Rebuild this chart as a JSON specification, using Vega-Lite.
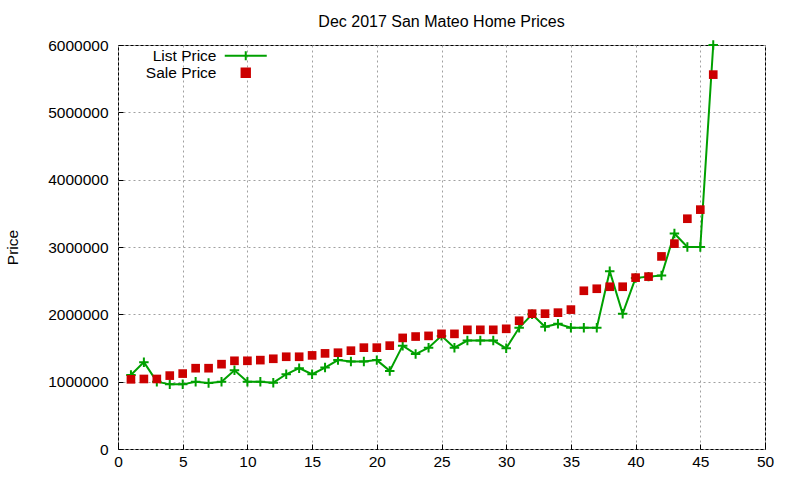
{
  "$schema": "https://vega.github.io/schema/vega-lite/v6.json",
  "autosize": "none",
  "width": 647,
  "height": 404,
  "padding": {"left": 118, "top": 45, "right": 35, "bottom": 31},
  "background": "white",
  "title": {
    "text": "Dec 2017 San Mateo Home Prices",
    "fontSize": 16,
    "fontWeight": "normal",
    "font": "Liberation Sans",
    "color": "black",
    "anchor": "middle",
    "baseline": "middle",
    "offset": -1.5
  },
  "data": {
    "values": [
      {"n": 1, "series": "List Price", "price": 1100000}, {"n": 1, "series": "Sale Price", "price": 1035000},
      {"n": 2, "series": "List Price", "price": 1290000}, {"n": 2, "series": "Sale Price", "price": 1040000},
      {"n": 3, "series": "List Price", "price": 1000000}, {"n": 3, "series": "Sale Price", "price": 1040000},
      {"n": 4, "series": "List Price", "price": 960000}, {"n": 4, "series": "Sale Price", "price": 1090000},
      {"n": 5, "series": "List Price", "price": 960000}, {"n": 5, "series": "Sale Price", "price": 1120000},
      {"n": 6, "series": "List Price", "price": 1000000}, {"n": 6, "series": "Sale Price", "price": 1200000},
      {"n": 7, "series": "List Price", "price": 980000}, {"n": 7, "series": "Sale Price", "price": 1200000},
      {"n": 8, "series": "List Price", "price": 1000000}, {"n": 8, "series": "Sale Price", "price": 1260000},
      {"n": 9, "series": "List Price", "price": 1170000}, {"n": 9, "series": "Sale Price", "price": 1310000},
      {"n": 10, "series": "List Price", "price": 1000000}, {"n": 10, "series": "Sale Price", "price": 1310000},
      {"n": 11, "series": "List Price", "price": 1000000}, {"n": 11, "series": "Sale Price", "price": 1320000},
      {"n": 12, "series": "List Price", "price": 985000}, {"n": 12, "series": "Sale Price", "price": 1340000},
      {"n": 13, "series": "List Price", "price": 1110000}, {"n": 13, "series": "Sale Price", "price": 1370000},
      {"n": 14, "series": "List Price", "price": 1200000}, {"n": 14, "series": "Sale Price", "price": 1370000},
      {"n": 15, "series": "List Price", "price": 1110000}, {"n": 15, "series": "Sale Price", "price": 1390000},
      {"n": 16, "series": "List Price", "price": 1210000}, {"n": 16, "series": "Sale Price", "price": 1420000},
      {"n": 17, "series": "List Price", "price": 1320000}, {"n": 17, "series": "Sale Price", "price": 1430000},
      {"n": 18, "series": "List Price", "price": 1300000}, {"n": 18, "series": "Sale Price", "price": 1460000},
      {"n": 19, "series": "List Price", "price": 1300000}, {"n": 19, "series": "Sale Price", "price": 1505000},
      {"n": 20, "series": "List Price", "price": 1320000}, {"n": 20, "series": "Sale Price", "price": 1505000},
      {"n": 21, "series": "List Price", "price": 1160000}, {"n": 21, "series": "Sale Price", "price": 1535000},
      {"n": 22, "series": "List Price", "price": 1535000}, {"n": 22, "series": "Sale Price", "price": 1650000},
      {"n": 23, "series": "List Price", "price": 1410000}, {"n": 23, "series": "Sale Price", "price": 1670000},
      {"n": 24, "series": "List Price", "price": 1505000}, {"n": 24, "series": "Sale Price", "price": 1680000},
      {"n": 25, "series": "List Price", "price": 1680000}, {"n": 25, "series": "Sale Price", "price": 1710000},
      {"n": 26, "series": "List Price", "price": 1505000}, {"n": 26, "series": "Sale Price", "price": 1710000},
      {"n": 27, "series": "List Price", "price": 1610000}, {"n": 27, "series": "Sale Price", "price": 1770000},
      {"n": 28, "series": "List Price", "price": 1610000}, {"n": 28, "series": "Sale Price", "price": 1770000},
      {"n": 29, "series": "List Price", "price": 1610000}, {"n": 29, "series": "Sale Price", "price": 1770000},
      {"n": 30, "series": "List Price", "price": 1495000}, {"n": 30, "series": "Sale Price", "price": 1785000},
      {"n": 31, "series": "List Price", "price": 1800000}, {"n": 31, "series": "Sale Price", "price": 1905000},
      {"n": 32, "series": "List Price", "price": 2000000}, {"n": 32, "series": "Sale Price", "price": 2010000},
      {"n": 33, "series": "List Price", "price": 1815000}, {"n": 33, "series": "Sale Price", "price": 2010000},
      {"n": 34, "series": "List Price", "price": 1860000}, {"n": 34, "series": "Sale Price", "price": 2025000},
      {"n": 35, "series": "List Price", "price": 1800000}, {"n": 35, "series": "Sale Price", "price": 2070000},
      {"n": 36, "series": "List Price", "price": 1800000}, {"n": 36, "series": "Sale Price", "price": 2350000},
      {"n": 37, "series": "List Price", "price": 1800000}, {"n": 37, "series": "Sale Price", "price": 2380000},
      {"n": 38, "series": "List Price", "price": 2640000}, {"n": 38, "series": "Sale Price", "price": 2410000},
      {"n": 39, "series": "List Price", "price": 2010000}, {"n": 39, "series": "Sale Price", "price": 2410000},
      {"n": 40, "series": "List Price", "price": 2540000}, {"n": 40, "series": "Sale Price", "price": 2545000},
      {"n": 41, "series": "List Price", "price": 2560000}, {"n": 41, "series": "Sale Price", "price": 2560000},
      {"n": 42, "series": "List Price", "price": 2575000}, {"n": 42, "series": "Sale Price", "price": 2860000},
      {"n": 43, "series": "List Price", "price": 3200000}, {"n": 43, "series": "Sale Price", "price": 3050000},
      {"n": 44, "series": "List Price", "price": 3000000}, {"n": 44, "series": "Sale Price", "price": 3420000},
      {"n": 45, "series": "List Price", "price": 3000000}, {"n": 45, "series": "Sale Price", "price": 3555000},
      {"n": 46, "series": "List Price", "price": 6000000}, {"n": 46, "series": "Sale Price", "price": 5560000}
    ]
  },
  "encoding": {
    "x": {
      "field": "n",
      "type": "quantitative",
      "scale": {"domain": [0, 50], "nice": false},
      "axis": {
        "title": null,
        "values": [0, 5, 10, 15, 20, 25, 30, 35, 40, 45, 50],
        "grid": true,
        "gridColor": "#a0a0a0",
        "gridDash": [2, 3],
        "domain": false,
        "tickColor": "black",
        "tickSize": -5,
        "labelFlush": false,
        "labelPadding": 10,
        "labelFontSize": 15.5,
        "labelColor": "black",
        "labelFont": "Liberation Sans"
      }
    },
    "y": {
      "field": "price",
      "type": "quantitative",
      "scale": {"domain": [0, 6000000], "nice": false},
      "axis": {
        "title": "Price",
        "values": [0, 1000000, 2000000, 3000000, 4000000, 5000000, 6000000],
        "format": "d",
        "grid": true,
        "gridColor": "#a0a0a0",
        "gridDash": [2, 3],
        "domain": false,
        "tickColor": "black",
        "tickSize": -5,
        "labelFlush": false,
        "labelPadding": 15,
        "labelFontSize": 15.5,
        "labelColor": "black",
        "labelFont": "Liberation Sans",
        "titleFont": "Liberation Sans",
        "titleFontSize": 15.5,
        "titleFontWeight": "normal",
        "titleColor": "black",
        "titleAngle": 270,
        "titleAlign": "center",
        "titleBaseline": "middle",
        "titleX": -106,
        "titleY": 202
      }
    },
    "color": {
      "field": "series",
      "type": "nominal",
      "scale": {"domain": ["List Price", "Sale Price"], "range": ["#00a000", "#cc0000"]},
      "legend": {
        "title": null,
        "orient": "none",
        "legendX": 120,
        "legendY": 3,
        "padding": 0,
        "rowPadding": -2,
        "symbolSize": 100,
        "labelAlign": "right",
        "labelOffset": -37,
        "labelFontSize": 15.5,
        "labelColor": "black",
        "labelFont": "Liberation Sans",
        "encode": {
          "symbols": {
            "update": {
              "shape": {"signal": "datum.value === 'List Price' ? 'M-4.2,0H4.2M0,-0.9V0.9' : 'square'"},
              "fill": {"signal": "datum.value === 'List Price' ? 'transparent' : '#cc0000'"},
              "stroke": {"signal": "datum.value === 'List Price' ? '#00a000' : 'transparent'"},
              "strokeWidth": {"value": 2},
              "size": {"signal": "datum.value === 'List Price' ? 100 : 70"}
            }
          }
        }
      }
    }
  },
  "layer": [
    {
      "transform": [{"filter": "datum.series === 'List Price'"}],
      "mark": {"type": "line", "strokeWidth": 2}
    },
    {
      "transform": [{"filter": "datum.series === 'List Price'"}],
      "mark": {"type": "point", "shape": "M-1,0H1M0,-1V1", "size": 90, "strokeWidth": 2, "filled": false, "opacity": 1}
    },
    {
      "transform": [{"filter": "datum.series === 'Sale Price'"}],
      "mark": {"type": "square", "size": 75, "opacity": 1}
    }
  ],
  "config": {
    "font": "Liberation Sans",
    "view": {"stroke": "black", "strokeWidth": 1}
  }
}
